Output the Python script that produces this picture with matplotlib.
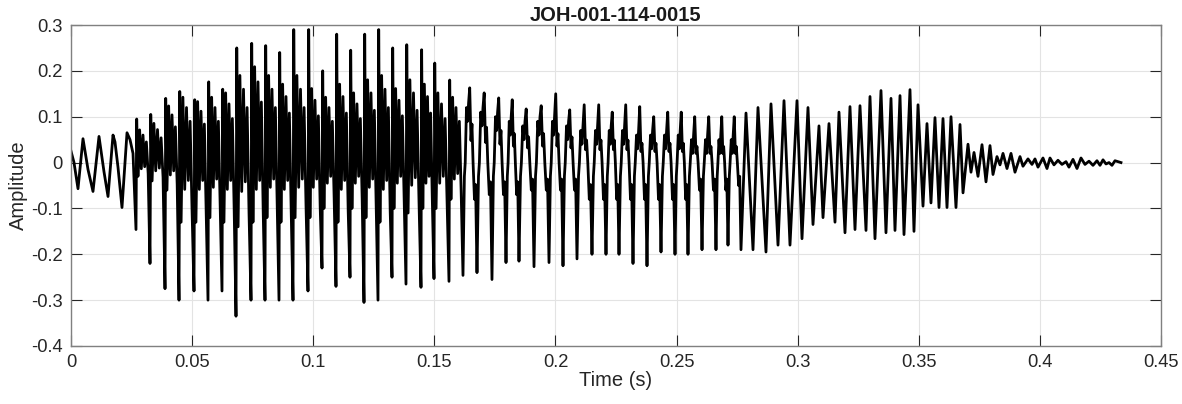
import numpy as np
import matplotlib
matplotlib.use("Agg")
import matplotlib.pyplot as plt
from matplotlib.ticker import FuncFormatter

# ---------------- data (times in ms, amplitudes) ----------------
# onset: explicit extrema
onset_t = [0.0, 1.24, 2.89, 4.95, 7.02, 9.08, 11.56, 13.62, 15.28, 17.34, 18.16,
           19.40, 21.05, 23.12, 24.36, 25.60]
onset_a = [0.025, 0.0, -0.057, 0.052, -0.015, -0.063, 0.057, -0.02, -0.074, 0.06, 0.045,
           -0.01, -0.098, 0.065, 0.05, 0.02]

# spiky voiced part: per glottal cycle
spiky_t = [26.83, 32.61, 38.81, 44.59, 50.78, 56.56, 62.34, 68.12, 74.31, 80.09, 85.87,
           91.65, 97.84, 103.62, 109.40, 115.18, 120.96, 126.74, 132.52, 138.30, 144.49,
           149.86, 156.05]
spiky_min = [-0.146, -0.22, -0.275, -0.30, -0.28, -0.30, -0.28, -0.335, -0.30, -0.30, -0.30,
             -0.30, -0.28, -0.23, -0.27, -0.25, -0.305, -0.30, -0.25, -0.265, -0.272,
             -0.253, -0.259]
spiky_max = [0.095, 0.105, 0.14, 0.155, 0.137, 0.176, 0.16, 0.25, 0.26, 0.255, 0.24,
             0.29, 0.29, 0.20, 0.28, 0.245, 0.28, 0.29, 0.25, 0.257, 0.246, 0.217, 0.18]
ripple_hi = [0.075, 0.09, 0.13, 0.15, 0.14, 0.15, 0.16, 0.20, 0.22, 0.20, 0.18, 0.20, 0.17,
             0.15, 0.18, 0.16, 0.19, 0.20, 0.17, 0.19, 0.18, 0.16, 0.15]
ripple_lo = [-0.03, -0.04, -0.06, -0.13, -0.13, -0.12, -0.13, -0.14, -0.13, -0.12, -0.13,
             -0.12, -0.12, -0.10, -0.13, -0.10, -0.12, -0.13, -0.10, -0.11, -0.10, -0.10,
             -0.08]

# smoother voiced part: per glottal cycle
mid_t = [161.83, 167.61, 173.80, 179.59, 184.95, 191.15, 197.34, 203.12, 208.90, 215.09,
         220.87, 226.24, 232.02, 237.80, 243.58, 249.36, 254.72, 260.51, 266.28, 271.24]
mid_min = [-0.246, -0.24, -0.255, -0.218, -0.215, -0.227, -0.218, -0.225, -0.21, -0.20,
           -0.20, -0.20, -0.22, -0.225, -0.195, -0.20, -0.20, -0.19, -0.19, -0.18]
mid_max = [0.163, 0.152, 0.141, 0.137, 0.117, 0.124, 0.15, 0.115, 0.126, 0.126, 0.11,
           0.126, 0.122, 0.10, 0.11, 0.11, 0.10, 0.10, 0.10, 0.10]
mid_hi = [0.12, 0.11, 0.10, 0.09, 0.08, 0.09, 0.09, 0.08, 0.07, 0.07, 0.07, 0.07, 0.06,
          0.06, 0.06, 0.06, 0.05, 0.05, 0.05, 0.05]
mid_lo = [-0.08, -0.07, -0.07, -0.07, -0.06, -0.06, -0.06, -0.06, -0.08, -0.08, -0.08,
          -0.08, -0.08, -0.08, -0.08, -0.08, -0.06, -0.06, -0.06, -0.05]

# sinusoidal part and decay: explicit extrema
tail_t = [276.60, 278.67, 281.56, 283.62, 286.92, 288.99, 291.88, 294.36, 296.83, 299.72,
          301.79, 304.26, 306.33, 308.80, 310.46, 312.93, 315.41, 317.06, 319.54, 321.60,
          323.67, 325.73, 328.21, 329.86, 331.92, 334.40, 336.46, 338.53, 340.18, 342.25,
          343.90, 346.37, 348.02, 349.68, 351.74, 353.39, 355.04, 356.69, 358.35, 360.00,
          361.65, 363.30, 365.36, 367.02, 368.26, 370.32, 371.56, 372.80, 374.45, 376.10,
          377.75, 379.40, 380.64, 382.29, 383.53, 384.77, 386.42, 388.07, 389.72, 391.79,
          393.02, 395.09, 396.74, 397.98, 399.22, 401.28, 402.93, 404.17, 405.82, 407.47,
          409.12, 410.78, 412.01, 413.67, 415.32, 416.97, 418.62, 420.27, 421.92, 423.57,
          424.82, 426.06, 427.29, 428.53, 429.77, 431.00, 433.48]
tail_a = [-0.19, 0.108, -0.19, 0.12, -0.195, 0.128, -0.18, 0.135, -0.18, 0.135,
          -0.166, 0.12, -0.135, 0.08, -0.12, 0.085, -0.13, 0.11, -0.153, 0.122,
          -0.146, 0.124, -0.148, 0.144, -0.166, 0.157, -0.153, 0.14, -0.148, 0.146,
          -0.157, 0.159, -0.15, 0.126, -0.095, 0.085, -0.088, 0.098, -0.098, 0.096,
          -0.098, 0.10, -0.098, 0.083, -0.066, 0.04, -0.021, 0.022, -0.03, 0.039,
          -0.042, 0.037, -0.026, 0.013, -0.005, 0.02, -0.013, 0.02, -0.021, 0.013,
          -0.008, 0.008, -0.004, 0.008, -0.01, 0.01, -0.013, 0.01, -0.005, 0.005,
          -0.004, 0.002, -0.01, 0.007, -0.013, 0.01, -0.004, 0.003, -0.006, 0.004,
          -0.006, 0.006, -0.003, 0.0, -0.006, 0.004, 0.0]

x_ticks = [0, 0.05, 0.1, 0.15, 0.2, 0.25, 0.3, 0.35, 0.4, 0.45]
y_ticks = [-0.4, -0.3, -0.2, -0.1, 0, 0.1, 0.2, 0.3]
title = "JOH-001-114-0015"

# ---------------- assemble the polyline ----------------
T, A = list(onset_t), list(onset_a)

# shape of one spiky cycle after the spike: (fraction of period, envelope, weight)
spiky_shape = [(0.14, 'lo', 1.0), (0.26, 'hi', 0.95), (0.38, 'lo', 0.45),
               (0.50, 'hi', 0.8), (0.62, 'lo', 0.3), (0.74, 'hi', 0.6), (0.87, 'lo', 0.8)]
for i, t0 in enumerate(spiky_t):
    t1 = spiky_t[i + 1] if i + 1 < len(spiky_t) else mid_t[0]
    P = t1 - t0
    T += [t0, t0 + 0.05 * P]
    A += [spiky_min[i], spiky_max[i]]
    for f, kind, k in spiky_shape:
        T.append(t0 + f * P)
        A.append((ripple_lo[i] if kind == 'lo' else ripple_hi[i]) * k)

for i, t0 in enumerate(mid_t):
    t1 = mid_t[i + 1] if i + 1 < len(mid_t) else tail_t[0]
    P = t1 - t0
    T += [t0, t0 + 0.10 * P, t0 + 0.16 * P, t0 + 0.25 * P, t0 + 0.33 * P, t0 + 0.40 * P,
          t0 + 0.48 * P, t0 + 0.57 * P, t0 + 0.64 * P, t0 + 0.72 * P, t0 + 0.82 * P,
          t0 + 0.90 * P]
    A += [mid_min[i], -0.03, 0.0, mid_hi[i], mid_hi[i] - 0.03, mid_hi[i] + 0.01,
          mid_max[i], 0.4 * mid_hi[i], 0.7 * mid_hi[i], 0.0, mid_lo[i], 0.6 * mid_lo[i]]

T += tail_t
A += tail_a
T = np.array(T) / 1000.0
A = np.array(A)

# ---------------- plot ----------------
plt.rcParams['font.family'] = ['Liberation Sans', 'DejaVu Sans']
fig = plt.figure(figsize=(11.82, 4.04), dpi=100)
ax = fig.add_axes([71 / 1182, 58 / 404, 1090 / 1182, 321 / 404])

ax.plot(T, A, color='black', lw=2.0, solid_joinstyle='round')

ax.set_xlim(0, 0.45)
ax.set_ylim(-0.4, 0.3)
ax.set_xticks(x_ticks)
ax.set_yticks(y_ticks)
fmt = FuncFormatter(lambda v, p: ('%g' % round(v, 3)).replace('\u2212', '-'))
ax.xaxis.set_major_formatter(fmt)
ax.yaxis.set_major_formatter(fmt)

ax.grid(True, color='#e3e3e3', lw=0.8)
ax.set_axisbelow(True)
for s in ax.spines.values():
    s.set_color('#808080')
    s.set_linewidth(1.0)
ax.tick_params(direction='in', length=8, width=0.8, color='#262626',
               labelcolor='#262626', labelsize=13.2, top=True, right=True, pad=6)

ax.set_xlabel('Time (s)', fontsize=14.5, color='#262626', labelpad=0)
ax.set_ylabel('Amplitude', fontsize=14.5, color='#262626', labelpad=2)
ax.set_title(title, fontsize=14.5, fontweight='bold', color='#1a1a1a', pad=3)

fig.savefig('out.png', dpi=100)
